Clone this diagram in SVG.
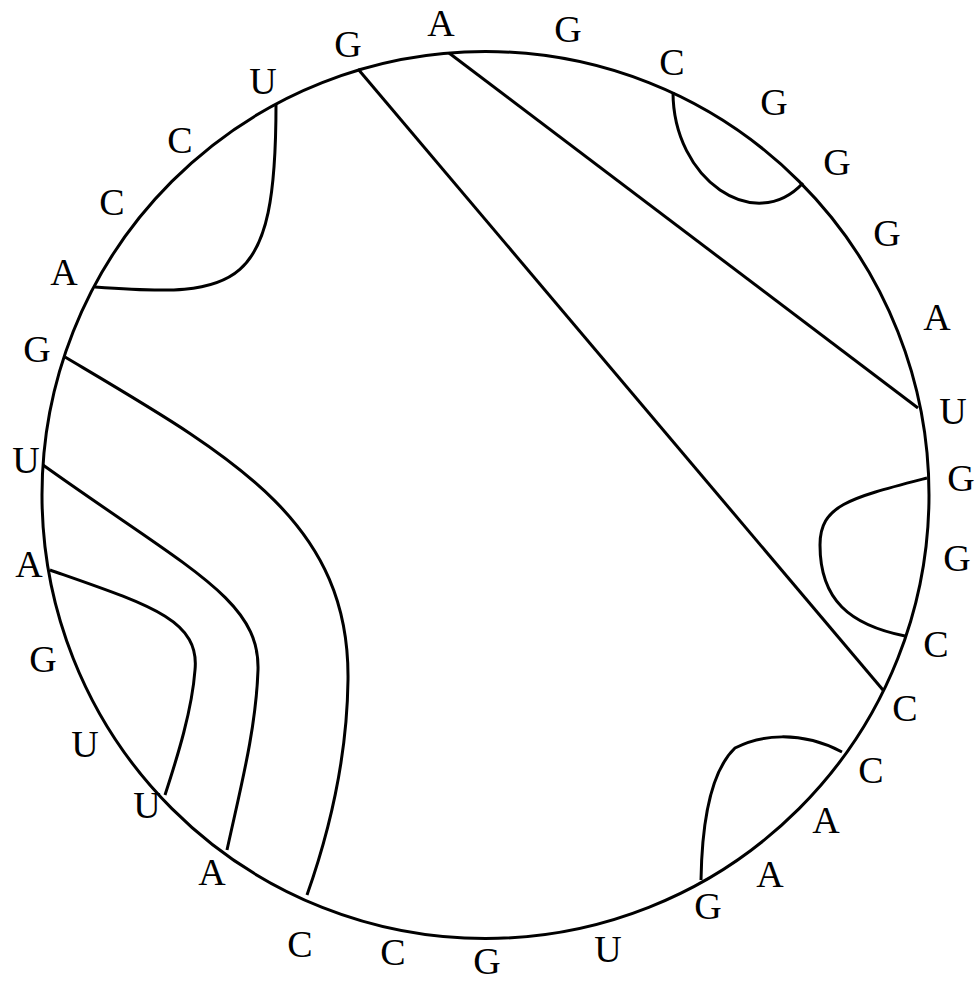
<svg xmlns="http://www.w3.org/2000/svg" width="977" height="982" viewBox="0 0 977 982">
<style>
.bb{fill:none;stroke:#000;stroke-width:3}
.pr{fill:none;stroke:#000;stroke-width:3}
text{font-family:"Liberation Serif","Times New Roman",serif;font-size:38px;fill:#000;text-anchor:middle}
</style>
<rect width="977" height="982" fill="#fff"/>
<g id="backbone"><circle class="bb" cx="485.5" cy="495" r="443.5"/></g>
<g id="connectors">
<path class="pr" d="M276,104 C276,290 240,298 95,287"/>
<path class="pr" d="M673,92 C673,180 755,235 803,183"/>
<path class="pr" d="M927,478 C850,498 820,505 820,545 C820,600 850,625 905,636"/>
<path class="pr" d="M842,752 C800,730 760,735 735,748 C712,770 702,820 701,880"/>
<path class="pr" d="M358,69 L883,690"/>
<path class="pr" d="M449,53 L918,408"/>
<path class="pr" d="M65,357 C230,455 350,520 348,680 C347,760 330,830 307,895"/>
<path class="pr" d="M43,465 C190,570 260,600 258,670 C256,730 240,790 227,850"/>
<path class="pr" d="M50,570 C150,605 200,620 195,670 C192,710 178,755 165,795"/>
</g>
<g id="n1"><text x="441" y="36">A</text></g>
<g id="n2"><text x="568" y="42">G</text></g>
<g id="n3"><text x="672" y="75">C</text></g>
<g id="n4"><text x="774" y="115">G</text></g>
<g id="n5"><text x="837" y="175">G</text></g>
<g id="n6"><text x="887" y="246">G</text></g>
<g id="n7"><text x="937" y="330">A</text></g>
<g id="n8"><text x="953" y="424">U</text></g>
<g id="n9"><text x="961" y="491">G</text></g>
<g id="n10"><text x="957" y="571">G</text></g>
<g id="n11"><text x="936" y="657">C</text></g>
<g id="n12"><text x="905" y="721">C</text></g>
<g id="n13"><text x="871" y="783">C</text></g>
<g id="n14"><text x="826" y="833">A</text></g>
<g id="n15"><text x="770" y="887">A</text></g>
<g id="n16"><text x="708" y="919">G</text></g>
<g id="n17"><text x="608" y="962">U</text></g>
<g id="n18"><text x="487" y="974">G</text></g>
<g id="n19"><text x="393" y="965">C</text></g>
<g id="n20"><text x="300" y="957">C</text></g>
<g id="n21"><text x="212" y="885">A</text></g>
<g id="n22"><text x="147" y="818">U</text></g>
<g id="n23"><text x="85" y="757">U</text></g>
<g id="n24"><text x="43" y="672">G</text></g>
<g id="n25"><text x="29" y="577">A</text></g>
<g id="n26"><text x="26" y="473">U</text></g>
<g id="n27"><text x="37" y="362">G</text></g>
<g id="n28"><text x="64" y="285">A</text></g>
<g id="n29"><text x="112" y="215">C</text></g>
<g id="n30"><text x="180" y="153">C</text></g>
<g id="n31"><text x="263" y="94">U</text></g>
<g id="n32"><text x="348" y="57">G</text></g>
</svg>
